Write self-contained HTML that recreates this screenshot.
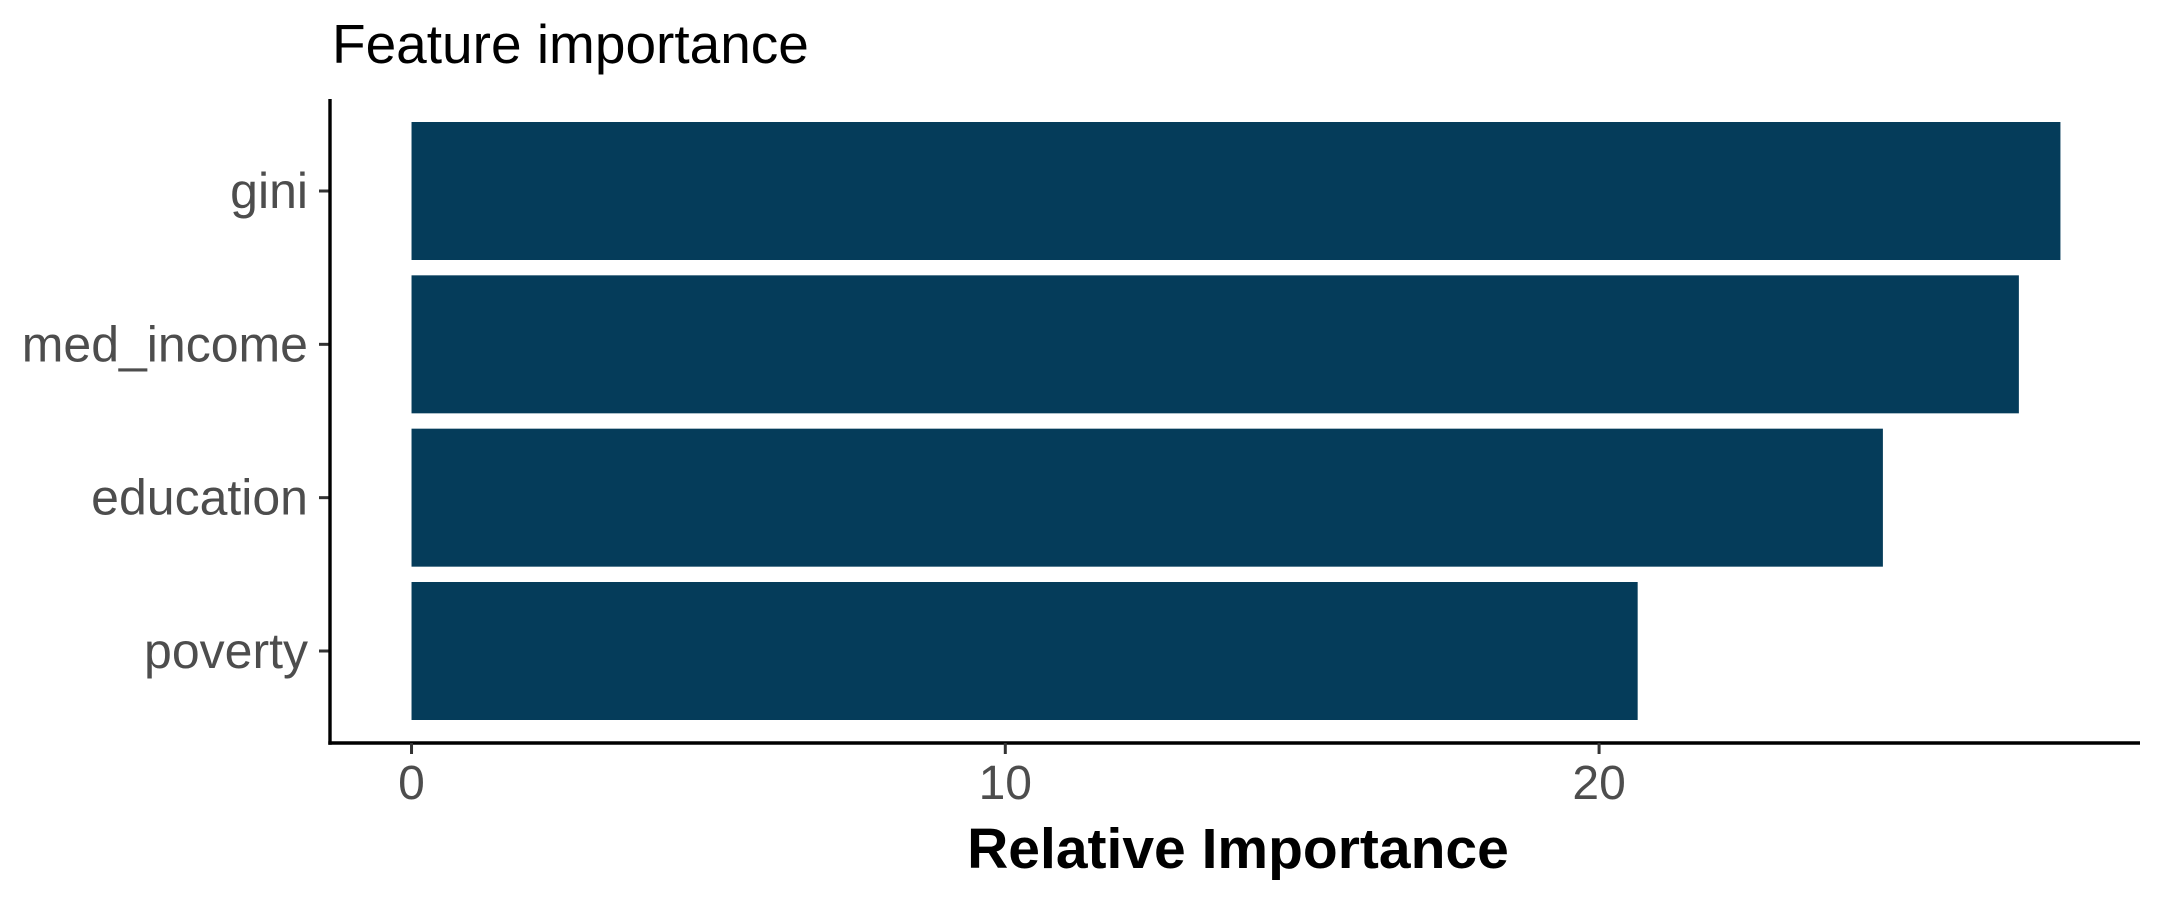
<!DOCTYPE html>
<html><head><meta charset="utf-8"><style>
html,body{margin:0;padding:0;background:#fff;}
svg{display:block;font-family:"Liberation Sans",Arial,sans-serif;}
</style></head><body>
<svg id="chart" width="2160" height="900" viewBox="0 0 2160 900">
<rect width="2160" height="900" fill="#fff"/>
<text x="332" y="63" font-size="55" fill="#000">Feature importance</text>
<g id="bars"></g>
<g id="yaxis"></g>
<g id="xaxis"></g>
<text x="1238" y="868" font-size="57" font-weight="bold" text-anchor="middle" fill="#000">Relative Importance</text>
</svg>
<script>
const categories = ["gini", "med_income", "education", "poverty"];
const values = [27.77, 27.07, 24.78, 20.65];
const xTicks = [0, 10, 20];
const xTickLabels = ["0", "10", "20"];

const NS = "http://www.w3.org/2000/svg";
const panel = {left: 330, right: 2140, top: 99, bottom: 743};
const xMin = -1.373, xMax = 29.11;
function xScale(v){ return panel.left + (v - xMin) / (xMax - xMin) * (panel.right - panel.left); }
const band = (panel.bottom - panel.top) / (categories.length + 0.2);
function yCenter(i){ return panel.top + (0.6 + i) * band; }
function mk(tag, attrs, parent){
  const e = document.createElementNS(NS, tag);
  for (const k in attrs) e.setAttribute(k, attrs[k]);
  parent.appendChild(e);
  return e;
}
const gb = document.getElementById("bars");
const gy = document.getElementById("yaxis");
const gx = document.getElementById("xaxis");
const bh = band * 0.9;
categories.forEach((c, i) => {
  const r = mk("rect", {x: xScale(0), y: yCenter(i) - bh/2, width: xScale(values[i]) - xScale(0), height: bh, fill: "#053c5a"}, gb);
  
  
  const t = mk("line", {x1: 319, x2: 330, y1: yCenter(i), y2: yCenter(i), stroke: "#333", "stroke-width": 3}, gy);
  
  
  const l = mk("text", {x: 308, y: yCenter(i) + 17, "font-size": 50, "text-anchor": "end", fill: "#4d4d4d"}, gy);
  l.textContent = c;
  
  
});
const ya = mk("line", {x1: panel.left, x2: panel.left, y1: panel.top, y2: panel.bottom + 1.7, stroke: "#000", "stroke-width": 3.4}, gy);


const xa = mk("line", {x1: panel.left - 1.7, x2: panel.right, y1: panel.bottom, y2: panel.bottom, stroke: "#000", "stroke-width": 3.4}, gx);


xTicks.forEach((v, i) => {
  const t = mk("line", {x1: xScale(v), x2: xScale(v), y1: panel.bottom, y2: panel.bottom + 11, stroke: "#333", "stroke-width": 3}, gx);
  
  
  const l = mk("text", {x: xScale(v), y: 799, "font-size": 48, "text-anchor": "middle", fill: "#4d4d4d"}, gx);
  l.textContent = xTickLabels[i];
  
  
});
</script>
</body></html>
